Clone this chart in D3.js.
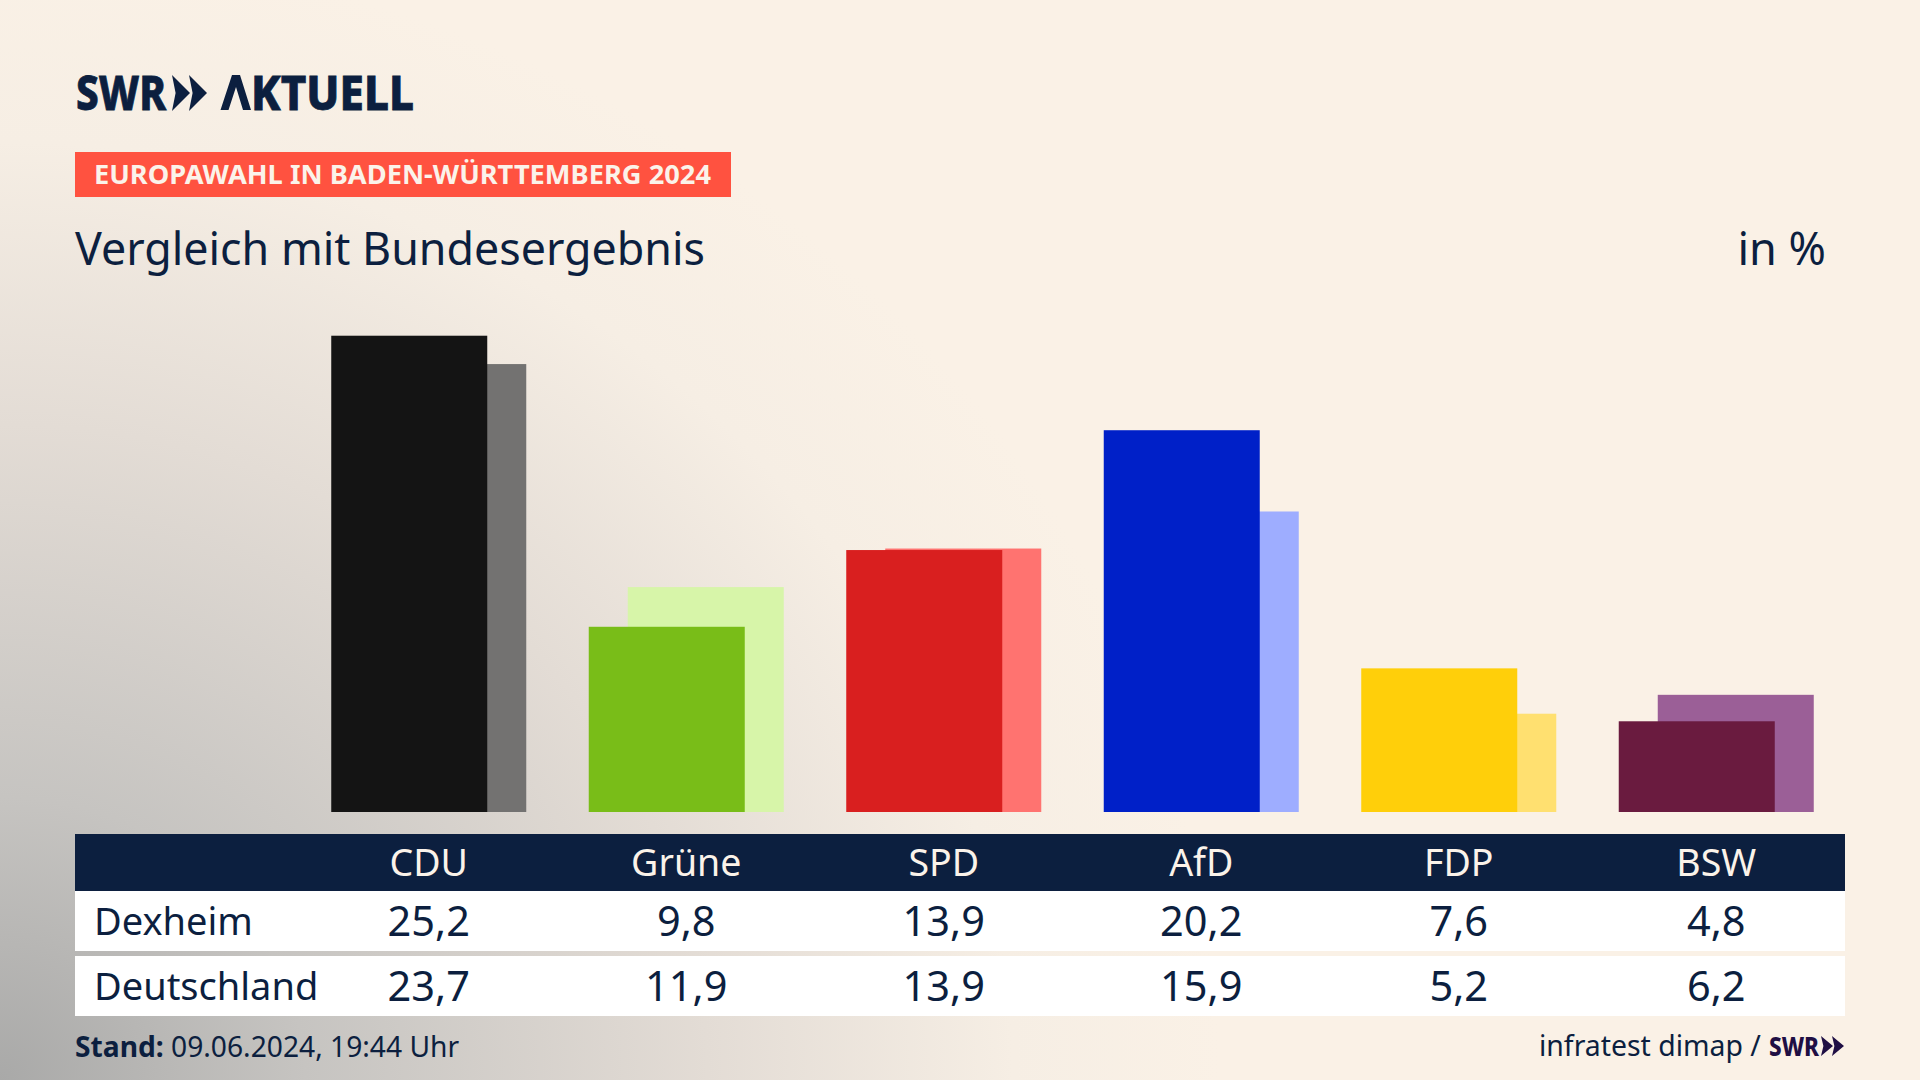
<!DOCTYPE html>
<html lang="de">
<head>
<meta charset="utf-8">
<title>Europawahl in Baden-Württemberg 2024</title>
<script src="https://cdn.jsdelivr.net/npm/d3@7"></script>
<style>
  html, body { margin: 0; padding: 0; }
  body {
    width: 1920px; height: 1080px; overflow: hidden;
    background:
      radial-gradient(ellipse 1220px 1130px at 0 1080px, #a9a9a8 0%, #c6c4c1 25%, #e3dcd5 58%, #f6eee4 83%, #faf1e6 100%),
      #faf1e6;
  }
  svg { display: block; font-family: "Noto Sans", sans-serif; }
  .axis path { display: none; }
  .axis line { display: none; }
</style>
</head>
<body>
<svg id="chart" width="1920" height="1080"></svg>
<script>
const parties = ['CDU', 'Grüne', 'SPD', 'AfD', 'FDP', 'BSW'];
const dexheim = [25.2, 9.8, 13.86, 20.2, 7.6, 4.8];
const deutschland = [23.7, 11.9, 13.94, 15.9, 5.2, 6.2];
const rowNames = ['Dexheim', 'Deutschland'];
const strongColors = ['#141414', '#79bd18', '#d91f1f', '#0020c8', '#ffcf0a', '#6a1b3f'];
const paleColors = ['#737271', '#d7f5a9', '#ff7370', '#9eadff', '#ffe070', '#9b5f97'];

const navy = '#0c1f3f';
const svg = d3.select('#chart');

const x = d3.scaleBand()
  .domain(parties)
  .range([300, 1845])
  .paddingInner(0.2427)
  .paddingOuter(0.12135);
const y = d3.scaleLinear().domain([0, 26]).range([812, 320.6]);
const barWidth = x.bandwidth() * 0.8;
const barShift = x.bandwidth() * 0.2;

const format = d3.formatLocale({ decimal: ',', thousands: '.', grouping: [3], currency: ['', '€'] }).format('.1f');

// header
function text(str, tx, ty, size, opts = {}) {
  return svg.append('text')
    .attr('x', tx).attr('y', ty)
    .attr('font-size', size)
    .attr('font-weight', opts.weight || 400)
    .attr('fill', opts.fill || navy)
    .attr('text-anchor', opts.anchor || 'start')
    .text(str);
}

text('SWR', 76, 110, 48, { weight: 800 })
  .attr('textLength', 90).attr('lengthAdjust', 'spacingAndGlyphs')
  .attr('stroke', navy).attr('stroke-width', 0.8);

// the logo's A has no crossbar: glyph stays as text but is hidden, drawn as a path instead
const aktuell = text('', 220, 110, 48, { weight: 800 })
  .attr('textLength', 194).attr('lengthAdjust', 'spacingAndGlyphs')
  .attr('stroke', navy).attr('stroke-width', 0.8);
aktuell.append('tspan').attr('fill-opacity', 0).attr('stroke-opacity', 0).text('A');
aktuell.append('tspan').text('KTUELL');
svg.append('path').attr('d', 'M220.5,110L232,75H240L251,110H243L236,87L228.5,110Z').attr('fill', navy);

const chevron = (ox, oy, w, h) => `M${ox},${oy}L${ox + w},${oy + h / 2}L${ox},${oy + h}L${ox + w * 0.2},${oy + h / 2}Z`;
svg.append('path').attr('d', chevron(172, 75, 18, 36) + chevron(189, 75, 18, 36)).attr('fill', navy);

svg.append('rect').attr('x', 75).attr('y', 152).attr('width', 656).attr('height', 45).attr('fill', '#ff5240');
text('EUROPAWAHL IN BADEN-WÜRTTEMBERG 2024', 94, 184, 27, { weight: 700, fill: '#fbf3ea' })
  .attr('textLength', 617).attr('lengthAdjust', 'spacingAndGlyphs');

text('Vergleich mit Bundesergebnis', 75, 264.5, 45).attr('textLength', 630).attr('lengthAdjust', 'spacingAndGlyphs');
text('in %', 1826, 264.5, 45, { anchor: 'end' });

// bars, pale ones behind
svg.append('g').selectAll('rect')
  .data(deutschland)
  .join('rect')
  .attr('x', (d, i) => x(parties[i]) + barShift)
  .attr('y', d => y(d))
  .attr('width', barWidth)
  .attr('height', d => y(0) - y(d))
  .attr('fill', (d, i) => paleColors[i]);

svg.append('g').selectAll('rect')
  .data(dexheim)
  .join('rect')
  .attr('x', (d, i) => x(parties[i]))
  .attr('y', d => y(d))
  .attr('width', barWidth)
  .attr('height', d => y(0) - y(d))
  .attr('fill', (d, i) => strongColors[i]);

// table
svg.append('rect').attr('x', 75).attr('y', 834).attr('width', 1770).attr('height', 57).attr('fill', navy);
svg.append('rect').attr('x', 75).attr('y', 891).attr('width', 1770).attr('height', 60).attr('fill', '#fff');
svg.append('rect').attr('x', 75).attr('y', 956).attr('width', 1770).attr('height', 60).attr('fill', '#fff');

const axis = svg.append('g')
  .attr('class', 'axis')
  .attr('transform', 'translate(0, 876)')
  .call(d3.axisTop(x).tickSize(0).tickPadding(0));
axis.selectAll('text')
  .attr('font-size', 37.5)
  .attr('font-family', '"Noto Sans", sans-serif')
  .attr('fill', '#fbf3ea');

[dexheim, deutschland].forEach((row, r) => {
  const base = r === 0 ? 935 : 1000;
  text(rowNames[r], 94, base, 38);
  svg.append('g').selectAll('text')
    .data(row)
    .join('text')
    .attr('x', (d, i) => x(parties[i]) + x.bandwidth() / 2)
    .attr('y', base + 1)
    .attr('text-anchor', 'middle')
    .attr('font-size', 41.5)
    .attr('fill', navy)
    .text(d => format(d));
});

// footer
const stand = text('', 75, 1057, 28.2);
stand.append('tspan').attr('font-weight', 700).text('Stand:');
stand.append('tspan').text(' 09.06.2024, 19:44 Uhr');

text('infratest dimap /', 1539, 1056, 28.4);
text('SWR', 1769, 1056, 27, { weight: 800, fill: '#1f0f44' }).attr('textLength', 50).attr('lengthAdjust', 'spacingAndGlyphs');
svg.append('path').attr('d', chevron(1821, 1036, 12, 20) + chevron(1832, 1036, 12, 20)).attr('fill', '#1f0f44');
</script>
</body>
</html>
